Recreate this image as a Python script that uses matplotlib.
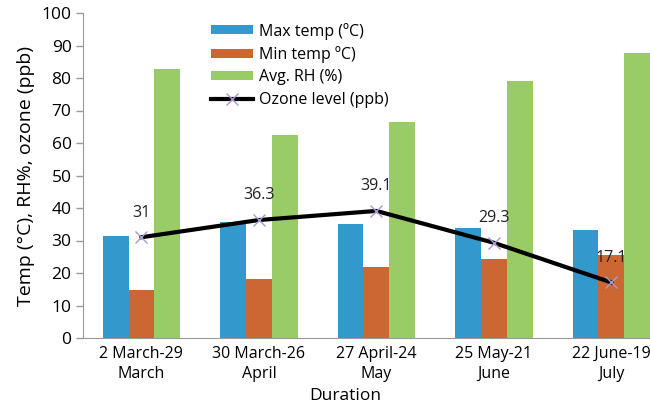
import numpy as np
import matplotlib
matplotlib.use("Agg")
import matplotlib.pyplot as plt

periodi = ["2 March-29\nMarch", "30 March-26\nApril", "27 April-24\nMay",
           "25 May-21\nJune", "22 June-19\nJuly"]
max_temp = [31.3, 35.6, 35.2, 33.9, 33.2]
min_temp = [14.8, 18.1, 21.8, 24.4, 25.5]
avg_rh = [82.8, 62.4, 66.5, 79.0, 87.6]
ozono = [31, 36.3, 39.1, 29.3, 17.1]

plt.rcParams['font.family'] = ['Open Sans', 'DejaVu Sans']

fig = plt.figure(figsize=(6.5, 4.03), dpi=100)
# gli assi escono a destra come nell'originale (immagine tagliata)
ax = fig.add_axes([82.7/650, (403-338)/403, (670-82.7)/650, (338-13)/403])

x = np.arange(len(periodi))
w = 0.22
b1 = ax.bar(x - w, max_temp, w, color='#3399CC', label='Max temp (ºC)')
b2 = ax.bar(x, min_temp, w, color='#CC6633', label='Min temp ºC)')
b3 = ax.bar(x + w, avg_rh, w, color='#99CC66', label='Avg. RH (%)')
l1, = ax.plot(x, ozono, color='black', lw=3, marker='x', ms=8, mec='#A99AD0',
              mew=1, label='Ozone level (ppb)', zorder=5)

for xi, v in zip(x, ozono):
    ax.annotate(f"{v:g}", (xi, v), xytext=(0, 12), textcoords='offset points',
                ha='center', va='bottom', fontsize=11.5, color='#222222')

ax.set_xlim(-0.5, 4.5)
ax.set_ylim(0, 100)
ax.set_yticks(range(0, 101, 10))
ax.set_xticks(x)
ax.set_xticklabels(periodi, fontsize=11.5, linespacing=1.3)
ax.tick_params(axis='y', labelsize=12.5, length=5, color='#999999', width=1, pad=3)
ax.tick_params(axis='x', length=0, pad=6)
for s in ['top', 'right']:
    ax.spines[s].set_visible(False)
for s in ['left', 'bottom']:
    ax.spines[s].set_color('#999999')

ax.set_ylabel("Temp (°C), RH%, ozone (ppb)", fontsize=14, labelpad=5)
ax.set_xlabel("Duration", fontsize=12.5, labelpad=0)
ax.xaxis.set_label_coords((345-82.7)/587.3, -0.155)

leg = ax.legend([b1, b2, b3, l1], [b1.get_label(), b2.get_label(), b3.get_label(), l1.get_label()],
                loc='upper left', bbox_to_anchor=((205-82.7)/587.3, 0.99),
                frameon=False, fontsize=11.5, handlelength=2.6, handleheight=0.5,
                labelspacing=0.4, handletextpad=0.4, borderaxespad=0)

fig.savefig("out.png", dpi=100)
